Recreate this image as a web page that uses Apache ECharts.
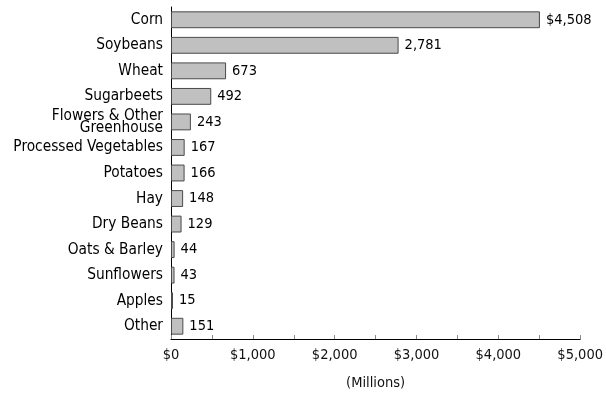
<!DOCTYPE html>
<html>
<head>
<meta charset="utf-8">
<script src="https://cdn.jsdelivr.net/npm/echarts@6/dist/echarts.min.js"></script>
<style>
html,body{margin:0;padding:0;background:#fff;}
#chart{width:606px;height:399px;}
</style>
</head>
<body>
<div id="chart"></div>
<script>
const crops = ['Corn', 'Soybeans', 'Wheat', 'Sugarbeets', 'Flowers & Other\nGreenhouse', 'Processed Vegetables',
    'Potatoes', 'Hay', 'Dry Beans', 'Oats & Barley', 'Sunflowers', 'Apples', 'Other'];
const values = [4508, 2781, 673, 492, 243, 167, 166, 148, 129, 44, 43, 15, 151];
const xTicks = [0, 1000, 2000, 3000, 4000, 5000];

const font = '"DejaVu Sans Condensed", "Liberation Sans Narrow", sans-serif';
const fmt = v => v.toLocaleString('en-US');

const myChart = echarts.init(document.querySelector('#chart'));
const option = {
    animation: false,
    grid: { left: 171, right: 25, top: 7, bottom: 60 },
    xAxis: {
        type: 'value',
        min: xTicks[0],
        max: xTicks[xTicks.length - 1],
        interval: 1000,
        name: '(Millions)',
        nameLocation: 'middle',
        nameGap: 37,
        nameTextStyle: { fontFamily: font, fontSize: 14.5, color: '#111' },
        axisLine: { show: true, lineStyle: { color: '#000', width: 1 } },
        axisTick: { show: true, inside: true, length: 4, lineStyle: { color: '#888' } },
        minorTick: { show: true, splitNumber: 2, length: 4, lineStyle: { color: '#888' } },
        splitLine: { show: false },
        axisLabel: {
            fontFamily: font, fontSize: 14.5, color: '#111', margin: 9,
            formatter: v => '$' + fmt(v)
        }
    },
    yAxis: {
        type: 'category',
        data: crops,
        inverse: true,
        axisLine: { show: true, lineStyle: { color: '#000', width: 1 } },
        axisTick: { show: false },
        axisLabel: {
            fontFamily: font, fontSize: 15.3, color: '#000', margin: 8, lineHeight: 12
        }
    },
    series: [{
        type: 'bar',
        data: values,
        barCategoryGap: '34%',
        barMinHeight: 2,
        itemStyle: { color: '#c0c0c0', borderColor: '#4a4a4a', borderWidth: 1 },
        label: {
            show: true,
            position: 'right',
            distance: 6,
            fontFamily: font, fontSize: 14.5, color: '#000',
            formatter: p => (p.dataIndex === 0 ? '$' : '') + fmt(p.value)
        }
    }]
};
myChart.setOption(option);
</script>
</body>
</html>
